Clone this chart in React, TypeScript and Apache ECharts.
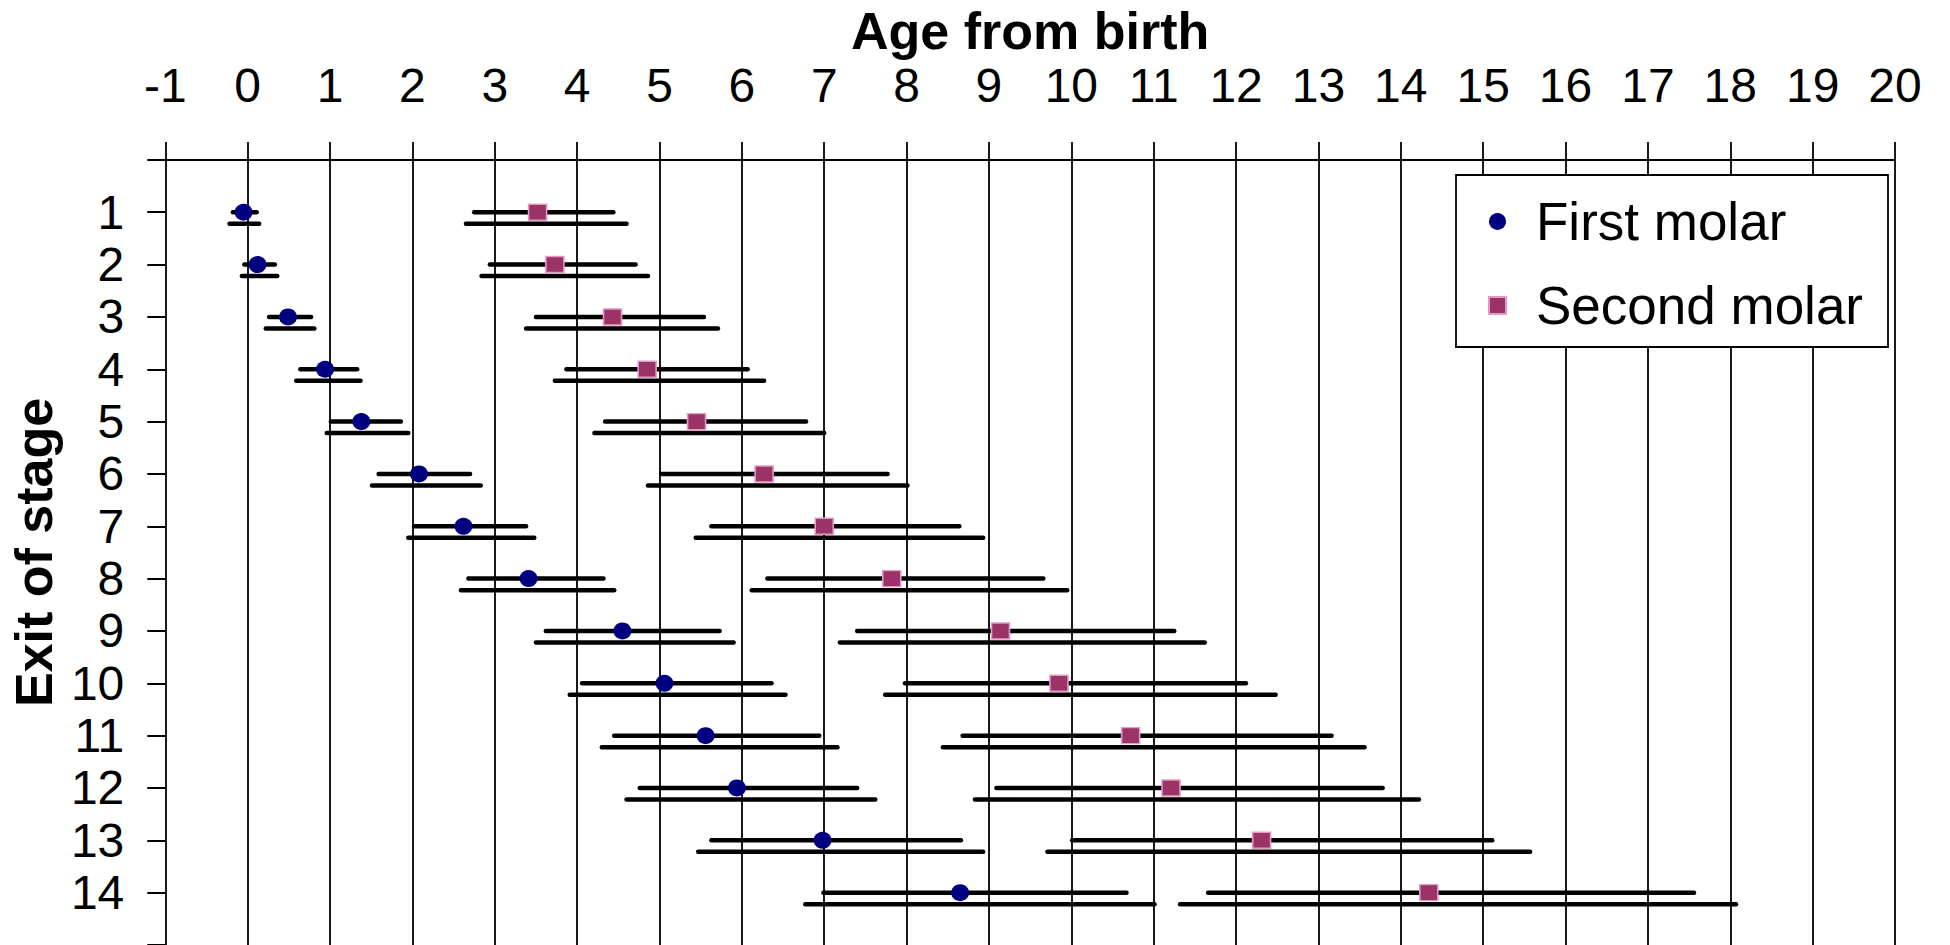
import React, { useEffect, useRef } from 'react';
import * as echarts from 'echarts';

// Exit of stage (y categories, shown top to bottom)
const stages = [1, 2, 3, 4, 5, 6, 7, 8, 9, 10, 11, 12, 13, 14];

// First molar: point estimate and two intervals (inner = upper line, outer = lower line)
const firstMean = [-0.05, 0.12, 0.49, 0.94, 1.38, 2.08, 2.62, 3.41, 4.55, 5.06, 5.56, 5.94, 6.98, 8.65];
const firstInnerLow = [-0.18, -0.04, 0.26, 0.64, 1.01, 1.59, 2.02, 2.68, 3.62, 4.06, 4.45, 4.76, 5.63, 6.99];
const firstInnerHigh = [0.11, 0.33, 0.77, 1.33, 1.86, 2.70, 3.38, 4.32, 5.73, 6.36, 6.94, 7.40, 8.66, 10.67];
const firstOuterLow = [-0.22, -0.07, 0.22, 0.59, 0.96, 1.51, 1.95, 2.59, 3.50, 3.91, 4.30, 4.60, 5.47, 6.77];
const firstOuterHigh = [0.14, 0.36, 0.81, 1.37, 1.95, 2.83, 3.48, 4.45, 5.90, 6.53, 7.16, 7.62, 8.93, 11.01];

// Second molar
const secondMean = [3.52, 3.73, 4.43, 4.85, 5.45, 6.27, 7.0, 7.82, 9.14, 9.85, 10.72, 11.21, 12.31, 14.34];
const secondInnerLow = [2.75, 2.94, 3.50, 3.87, 4.34, 5.02, 5.63, 6.31, 7.40, 7.98, 8.68, 9.09, 10.01, 11.66];
const secondInnerHigh = [4.44, 4.71, 5.54, 6.07, 6.78, 7.77, 8.64, 9.66, 11.25, 12.12, 13.16, 13.78, 15.11, 17.56];
const secondOuterLow = [2.65, 2.84, 3.38, 3.73, 4.21, 4.86, 5.44, 6.12, 7.19, 7.74, 8.44, 8.83, 9.71, 11.32];
const secondOuterHigh = [4.60, 4.86, 5.71, 6.27, 7.0, 8.01, 8.93, 9.95, 11.62, 12.48, 13.56, 14.22, 15.57, 18.07];

const seriesNames = ['First molar', 'Second molar'];

const FONT = '"Liberation Sans", Arial, Helvetica, sans-serif';

export default function App() {
  const ref = useRef<HTMLDivElement>(null);

  useEffect(() => {
    if (!ref.current) return;
    const chart = echarts.init(ref.current, null, { renderer: 'svg' });

    const intervalSeries = (name: string, lows: number[], highs: number[], offset: number) => ({
      type: 'custom',
      name,
      silent: true,
      z: 3,
      data: stages.map((s, i) => [lows[i], highs[i], s]),
      encode: { x: [0, 1], y: 2 },
      renderItem: (_params: any, api: any) => {
        const y = api.value(2) + offset;
        const p1 = api.coord([api.value(0), y]);
        const p2 = api.coord([api.value(1), y]);
        return {
          type: 'line',
          shape: { x1: p1[0], y1: p1[1], x2: p2[0], y2: p2[1] },
          style: { stroke: '#000', lineWidth: 4.5, lineCap: 'round' },
        };
      },
    });

    const option: any = {
      animation: false,
      backgroundColor: '#fff',
      grid: { left: 161, top: 154, width: 1734, height: 794, containLabel: false },
      xAxis: {
        type: 'value',
        position: 'top',
        min: -1,
        max: 20,
        interval: 1,
        name: 'Age from birth',
        nameLocation: 'middle',
        nameGap: 102,
        nameTextStyle: { fontSize: 52, fontWeight: 'bold', fontFamily: FONT, color: '#000' },
        axisLine: { show: true, onZero: false, lineStyle: { color: '#000', width: 2 } },
        axisTick: { show: true, inside: false, length: 18, lineStyle: { color: '#000', width: 1.8 } },
        axisLabel: { fontSize: 48, fontFamily: FONT, color: '#000', margin: 50, formatter: (v: number) => String(v) },
        splitLine: { show: true, lineStyle: { color: '#000', width: 1.8 } },
      },
      yAxis: {
        type: 'value',
        inverse: true,
        min: 0,
        max: 15,
        interval: 1,
        name: 'Exit of stage',
        nameLocation: 'middle',
        nameGap: 98,
        nameRotate: 90,
        nameTextStyle: { fontSize: 52, fontWeight: 'bold', fontFamily: FONT, color: '#000' },
        axisLine: { show: false, onZero: false },
        axisTick: { show: true, inside: false, length: 18, lineStyle: { color: '#000', width: 2 } },
        axisLabel: {
          fontSize: 48,
          fontFamily: FONT,
          color: '#000',
          margin: 41,
          formatter: (v: number) => (v >= 1 && v <= 14 ? String(v) : ''),
        },
        splitLine: { show: false },
      },
      legend: {
        orient: 'vertical',
        left: 1456,
        top: 175,
        padding: [20, 25, 15, 32],
        itemGap: 31,
        itemWidth: 17,
        itemHeight: 17,
        backgroundColor: '#fff',
        borderColor: '#000',
        borderWidth: 1.8,
        borderRadius: 0,
        selectedMode: false,
        textStyle: { fontSize: 53, fontFamily: FONT, color: '#000', padding: [0, 0, 0, 25] },
        data: [
          { name: seriesNames[0], icon: 'circle' },
          { name: seriesNames[1], icon: 'rect' },
        ],
      },
      series: [
        intervalSeries('fm-inner', firstInnerLow, firstInnerHigh, 0),
        intervalSeries('fm-outer', firstOuterLow, firstOuterHigh, 0.22),
        intervalSeries('sm-inner', secondInnerLow, secondInnerHigh, 0),
        intervalSeries('sm-outer', secondOuterLow, secondOuterHigh, 0.22),
        {
          type: 'scatter',
          name: seriesNames[0],
          z: 5,
          symbol: 'circle',
          symbolSize: [18, 17],
          itemStyle: { color: '#000080', opacity: 1 },
          data: stages.map((s, i) => [firstMean[i], s]),
        },
        {
          type: 'scatter',
          name: seriesNames[1],
          z: 5,
          symbol: 'rect',
          symbolSize: [18, 16],
          itemStyle: { color: '#9B3366', borderColor: '#E29BC4', borderWidth: 1.5, opacity: 1 },
          data: stages.map((s, i) => [secondMean[i], s]),
        },
      ],
    };

    chart.setOption(option);
    return () => chart.dispose();
  }, []);

  return (
    <div
      ref={ref}
      style={{ position: 'absolute', left: 0, top: 0, width: 1950, height: 945, background: '#fff' }}
    />
  );
}
